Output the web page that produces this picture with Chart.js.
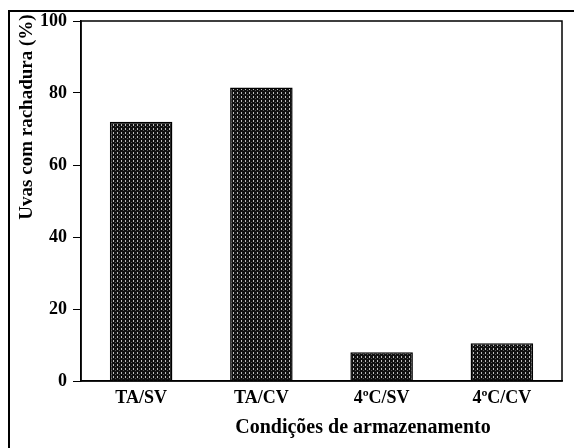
<!DOCTYPE html>
<html>
<head>
<meta charset="utf-8">
<script src="https://cdn.jsdelivr.net/npm/chart.js@4"></script>
<style>
  html, body { margin: 0; padding: 0; background: #fff; }
  #wrap { width: 574px; height: 448px; position: relative; }
</style>
</head>
<body>
<div id="wrap"><canvas id="chart"></canvas></div>
<script>
const categories = ['TA/SV', 'TA/CV', '4ºC/SV', '4ºC/CV'];
const crackedPct = [72, 81.5, 8, 10.5];
const yTicks = [0, 20, 40, 60, 80, 100];
const yTitle = 'Uvas com rachadura (%)';
const xTitle = 'Condições de armazenamento';

const serif = "'Liberation Serif', 'Times New Roman', serif";

// stippled fill like the scanned bars
function makePattern() {
    const c = document.createElement('canvas');
    c.width = 4; c.height = 4;
    const g = c.getContext('2d');
    g.fillStyle = '#101010';
    g.fillRect(0, 0, 4, 4);
    g.fillStyle = '#bdbdbd';
    g.fillRect(1, 0, 1, 2);
    g.fillStyle = '#5a5a5a';
    g.fillRect(3, 2, 1, 1);
    return g.createPattern(c, 'repeat');
}

const framePlugin = {
    id: 'frame',
    afterDraw(chart) {
        const ctx = chart.ctx;
        const a = chart.chartArea;
        ctx.save();
        // outer border of the figure
        ctx.strokeStyle = '#000';
        ctx.lineWidth = 2;
        ctx.strokeRect(9, 11, 620, 500);
        // plot box
        ctx.lineWidth = 1.5;
        ctx.strokeRect(a.left, a.top, a.right - a.left, a.bottom - a.top);
        // axis titles
        ctx.fillStyle = '#000';
        ctx.textAlign = 'center';
        ctx.textBaseline = 'middle';
        ctx.font = 'bold 20px ' + serif;
        ctx.fillText(xTitle, 363, 428);
        ctx.font = 'bold 19px ' + serif;
        ctx.translate(27, 117);
        ctx.rotate(-Math.PI / 2);
        ctx.fillText(yTitle, 0, 0);
        ctx.restore();
    }
};

const ctx = document.getElementById('chart').getContext('2d');
new Chart(ctx, {
    type: 'bar',
    data: {
        labels: categories,
        datasets: [{
            data: crackedPct,
            backgroundColor: makePattern(),
            borderColor: '#000',
            borderWidth: 1.5,
            categoryPercentage: 1,
            barPercentage: 0.52
        }]
    },
    options: {
        responsive: true,
        maintainAspectRatio: false,
        animation: false,
        layout: { padding: { left: 0, right: 12, top: 21, bottom: 0 } },
        plugins: {
            legend: { display: false },
            tooltip: { enabled: false }
        },
        scales: {
            x: {
                afterFit: s => { s.height = 67; },
                grid: { display: false, drawTicks: false },
                border: { display: true, color: '#000', width: 1.5 },
                ticks: {
                    color: '#000',
                    padding: 7,
                    maxRotation: 0,
                    font: { family: serif, size: 18, weight: 'bold' }
                }
            },
            y: {
                min: 0,
                max: 100,
                afterFit: s => { s.width = 81; },
                afterBuildTicks: s => { s.ticks = yTicks.map(v => ({ value: v })); },
                grid: { drawOnChartArea: false, drawTicks: true, tickLength: 8, color: '#000', lineWidth: 1 },
                border: { display: true, color: '#000', width: 1.5 },
                ticks: {
                    color: '#000',
                    padding: 6,
                    font: { family: serif, size: 18, weight: 'bold' }
                }
            }
        }
    },
    plugins: [framePlugin]
});
</script>
</body>
</html>
